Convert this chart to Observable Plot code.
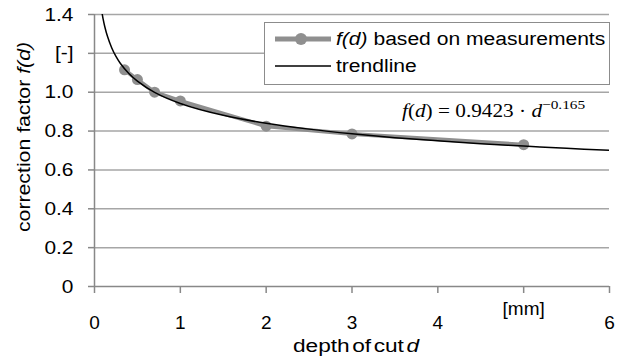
<!DOCTYPE html>
<html>
<head>
<meta charset="utf-8">
<script src="https://cdn.jsdelivr.net/npm/d3@7"></script>
<script src="https://cdn.jsdelivr.net/npm/@observablehq/plot@0.6"></script>
<style>
  body { margin: 0; background: white; }
  #wrap { position: relative; width: 624px; height: 360px; overflow: hidden; font-family: "Liberation Sans", Arial, sans-serif; color: #000; }
  #wrap > svg text { font-family: "Liberation Sans", Arial, sans-serif; font-size: 19px; fill: #000; }
  .ov { position: absolute; white-space: nowrap; }
  #legend { position: absolute; left: 264px; top: 22px; width: 344px; height: 61px; border: 1.5px solid #8c8c8c; background: white; }
  .row { position: absolute; left: 10px; height: 20px; display: flex; align-items: center; }
  .row span { font-size: 18px; display: inline-block; transform: scaleX(1.17); transform-origin: left center; margin-left: 5px; }
  #eq { font-family: "Liberation Serif", "Times New Roman", serif; font-size: 18px; transform: scaleX(1.18); transform-origin: left bottom; }
  #eq sup { font-size: 13px; vertical-align: 8px; line-height: 0; }
</style>
</head>
<body>
<div id="wrap"></div>
<script>
const xTicks = [0, 1, 2, 3, 4, 5, 6];
const xTickLabels = ["0", "1", "2", "3", "4", "[mm]", "6"];
const yTicks = [0, 0.2, 0.4, 0.6, 0.8, 1.0, 1.2, 1.4];
const yTickLabels = ["0", "0.2", "0.4", "0.6", "0.8", "1.0", "[-]", "1.4"];

const measDepth = [0.35, 0.5, 0.7, 1, 2, 3, 5];
const measFactor = [1.115, 1.065, 1.0, 0.955, 0.825, 0.785, 0.73];

const trendDepth = [0.09, 0.1, 0.12, 0.15, 0.2, 0.25, 0.3, 0.4, 0.5, 0.7, 1, 1.5, 2, 2.5, 3, 3.5, 4, 4.5, 5, 5.5, 6];
const trendFactor = [1.402, 1.378, 1.337, 1.289, 1.229, 1.184, 1.149, 1.096, 1.057, 0.999, 0.942, 0.881, 0.840, 0.810, 0.786, 0.766, 0.750, 0.735, 0.723, 0.711, 0.701];

const yTitle = ["correction factor ", "f(d)"];
const xTitle = ["depth of cut ", "d"];
const legendLabels = ["f(d)", " based on measurements", "trendline"];

const meas = measDepth.map((d, i) => ({d, f: measFactor[i]}));
const trend = trendDepth.map((d, i) => ({d, f: trendFactor[i]}));

const lookup = (ticks, labels) => v => labels[ticks.findIndex(t => Math.abs(t - v) < 1e-9)];

const chart = Plot.plot({
  width: 624,
  height: 360,
  marginLeft: 94,
  marginRight: 15,
  marginTop: 14,
  marginBottom: 74,
  x: {domain: [0, 6]},
  y: {domain: [0, 1.4]},
  style: {fontFamily: "'Liberation Sans', Arial, sans-serif", fontSize: "19px", color: "black", background: "white"},
  marks: [
    Plot.ruleY(yTicks.slice(1), {stroke: "#a6a6a6", strokeWidth: 1.5}),
    Plot.axisY({ticks: yTicks, tickFormat: lookup(yTicks, yTickLabels), tickSize: 6, tickPadding: 15, stroke: "#888", strokeWidth: 1.5, fontSize: 19, label: null}),
    Plot.axisX({ticks: xTicks, tickFormat: v => (v === 5 ? "" : lookup(xTicks, xTickLabels)(v)), tickSize: 7, tickPadding: 22, stroke: "#888", strokeWidth: 1.5, fontSize: 19, label: null}),
    Plot.text([5], {x: d => d, frameAnchor: "bottom", dy: 28, text: () => xTickLabels[5], fontSize: 19}),
    Plot.ruleX([0], {stroke: "#888", strokeWidth: 1.5}),
    Plot.ruleY([0], {stroke: "#888", strokeWidth: 1.5}),
    Plot.line(meas, {x: "d", y: "f", stroke: "#8f8f8f", strokeWidth: 4}),
    Plot.dot(meas, {x: "d", y: "f", r: 5.5, fill: "#8f8f8f"}),
    Plot.line(trend, {x: "d", y: "f", stroke: "black", strokeWidth: 1.5, curve: "catmull-rom", clip: true})
  ]
});

// widen the y tick labels slightly, as in the reference
d3.select(chart).selectAll('g[aria-label="y-axis tick label"] text').each(function () {
  const t = this.getAttribute("transform") || "";
  this.setAttribute("transform", t + " scale(1.1,1)");
});

const wrap = document.getElementById("wrap");
wrap.appendChild(chart);

// y title
const yt = document.createElement("div");
yt.className = "ov";
yt.style.cssText = "left:24px;top:137px;font-size:18px;transform:translate(-50%,-50%) rotate(-90deg) scaleX(1.18);";
yt.innerHTML = `${yTitle[0]}<i>${yTitle[1]}</i>`;
wrap.appendChild(yt);

// x title
const xt = document.createElement("div");
xt.className = "ov";
xt.style.cssText = "left:356px;top:346px;font-size:18px;word-spacing:-3px;transform:translate(-50%,-50%) scaleX(1.26);";
xt.innerHTML = `${xTitle[0]}<i>${xTitle[1]}</i>`;
wrap.appendChild(xt);

// legend
const lg = document.createElement("div");
lg.id = "legend";
lg.innerHTML = `
  <div class="row" style="top:6px;">
    <svg width="56" height="14"><line x1="0" y1="7" x2="56" y2="7" stroke="#8f8f8f" stroke-width="5"/><circle cx="26" cy="7" r="6" fill="#8f8f8f"/></svg>
    <span><i>${legendLabels[0]}</i>${legendLabels[1]}</span>
  </div>
  <div class="row" style="top:33px;">
    <svg width="56" height="14"><line x1="0" y1="7" x2="56" y2="7" stroke="black" stroke-width="1.5"/></svg>
    <span>${legendLabels[2]}</span>
  </div>`;
wrap.appendChild(lg);

// equation
const eq = document.createElement("div");
eq.id = "eq";
eq.className = "ov";
eq.style.left = "402px";
eq.style.top = "101px";
eq.innerHTML = `<i>f</i>(<i>d</i>) = 0.9423 · <i>d</i><sup>−0.165</sup>`;
wrap.appendChild(eq);
</script>
</body>
</html>
